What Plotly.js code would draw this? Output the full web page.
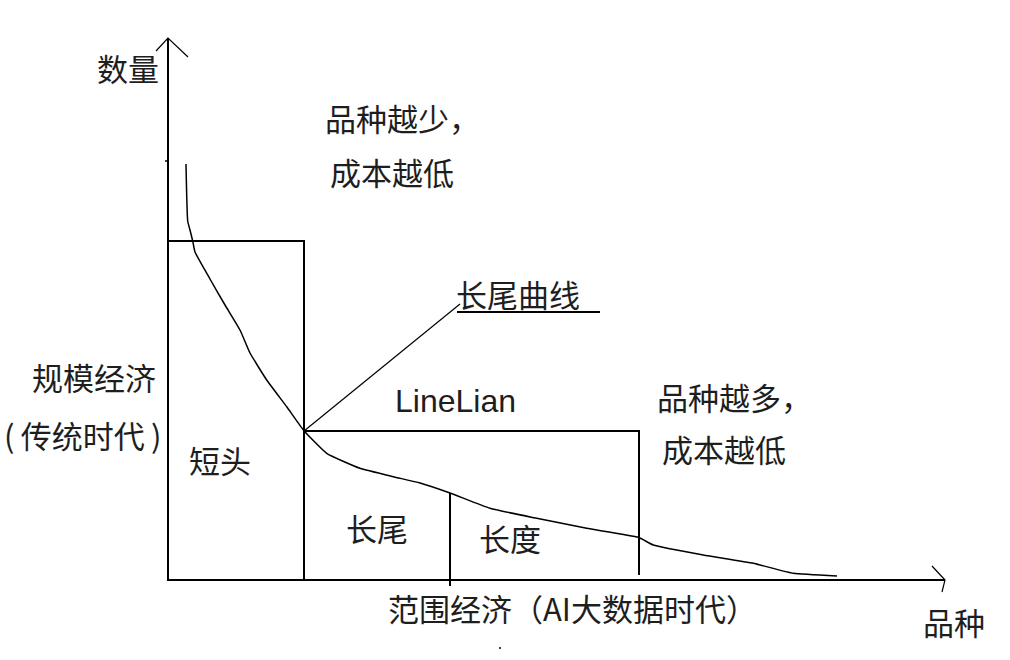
<!DOCTYPE html>
<html>
<head>
<meta charset="utf-8">
<script src="https://cdn.plot.ly/plotly-3.0.1.min.js"></script>
<style>
  html, body { margin: 0; padding: 0; background: #ffffff; }
  #chart { width: 1010px; height: 660px; }
</style>
</head>
<body>
<div id="chart"></div>
<script>
// Coordinates: x = 品种 (variety), y = 数量 (quantity); origin at the axes corner.

// Long-tail curve
const curveX = [18, 19.7, 22, 24.7, 27, 42, 57, 72, 82, 98.7, 118.7, 136, 158.7, 192, 225.3, 252, 282, 322, 368.7, 418.7, 470.3, 485.3, 535.3, 585.3, 625.3, 669];
const curveY = [416, 359, 350, 339, 328, 301, 275, 250, 227, 200, 173.3, 149.3, 126.7, 111.7, 103.3, 97, 87, 71.7, 61.7, 51.7, 42.7, 35, 25, 16.7, 6.7, 4];

// Axes with arrow heads
const yAxisX = [0, 0];          const yAxisY = [0, 542];
const yArrowX = [-12, 0, 20];   const yArrowY = [529, 542, 523];
const xAxisX = [-1, 777];       const xAxisY = [0, 0];
const xArrowX = [764, 777, 774]; const xArrowY = [14, 0, -12];
const yTickX = [-3, 0];         const yTickY = [419, 419];

// Short-head box (短头)
const headBoxX = [0, 136, 136]; const headBoxY = [339, 339, 0];
// Long-tail box (长尾 / 长度)
const tailBoxX = [136, 471, 471]; const tailBoxY = [149, 149, 5];
// Divider between 长尾 and 长度
const dividerX = [282, 282];    const dividerY = [87, -6];
// Leader line to the label and its underline
const leaderX = [136, 292];     const leaderY = [149, 276];
const underlineX = [289, 432];  const underlineY = [268, 268];
// stray dot
const dotX = [332]; const dotY = [-68];

// Text labels
const labelTexts = ['数量', '品种越少，', '成本越低', '长尾曲线', '规模经济', '(\u2009传统时代\u2009)', '短头',
                    'LineLian', '品种越多，', '成本越低', '长尾', '长度', '范围经济（AI大数据时代）', '品种'];
const labelX = [-40.5, 234, 223.5, 349.5, -74.5, -85.5, 52, 287.5, 566, 556, 208.7, 342, 218, 785.5];
const labelY = [513, 462.5, 409, 287, 203.5, 146, 121, 179, 184, 132, 53, 43, -27, -41];
const labelAnchor = ['center', 'center', 'center', 'center', 'center', 'center', 'center',
                     'center', 'center', 'center', 'center', 'center', 'left', 'center'];

const cjk = '"Noto Sans CJK SC", "Noto Sans", sans-serif';
const latin = '"Liberation Sans", Arial, sans-serif';

function seg(x, y, w) {
  return { type: 'scatter', mode: 'lines', x: x, y: y, hoverinfo: 'skip',
           line: { color: '#000000', width: w }, showlegend: false };
}

const data = [
  seg(yAxisX, yAxisY, 2),
  seg(yArrowX, yArrowY, 1.2),
  seg(xAxisX, xAxisY, 2),
  seg(xArrowX, xArrowY, 1.2),
  seg(yTickX, yTickY, 1.5),
  seg(headBoxX, headBoxY, 2),
  seg(tailBoxX, tailBoxY, 2),
  seg(dividerX, dividerY, 2),
  seg(leaderX, leaderY, 1.2),
  seg(underlineX, underlineY, 2),
  Object.assign(seg(curveX, curveY, 1.5), { line: { color: '#000000', width: 1.5, shape: 'spline', smoothing: 0.4 } }),
  { type: 'scatter', mode: 'markers', x: dotX, y: dotY, hoverinfo: 'skip', showlegend: false,
    marker: { color: '#000000', size: 2 } }
];

const annotations = labelTexts.map((t, i) => ({
  text: t, x: labelX[i], y: labelY[i], xref: 'x', yref: 'y',
  xanchor: labelAnchor[i], yanchor: 'middle', showarrow: false,
  font: { family: t === 'LineLian' ? latin : cjk, size: t === 'LineLian' ? 32 : 31, color: '#1e1e1e' }
}));

const layout = {
  width: 1010, height: 660,
  margin: { l: 0, r: 0, t: 0, b: 0, pad: 0 },
  paper_bgcolor: '#ffffff', plot_bgcolor: '#ffffff',
  xaxis: { range: [-168, 842], visible: false, fixedrange: true },
  yaxis: { range: [-80, 580], visible: false, fixedrange: true },
  annotations: annotations,
  showlegend: false
};

Plotly.newPlot('chart', data, layout, { displayModeBar: false, staticPlot: true });
</script>
</body>
</html>
